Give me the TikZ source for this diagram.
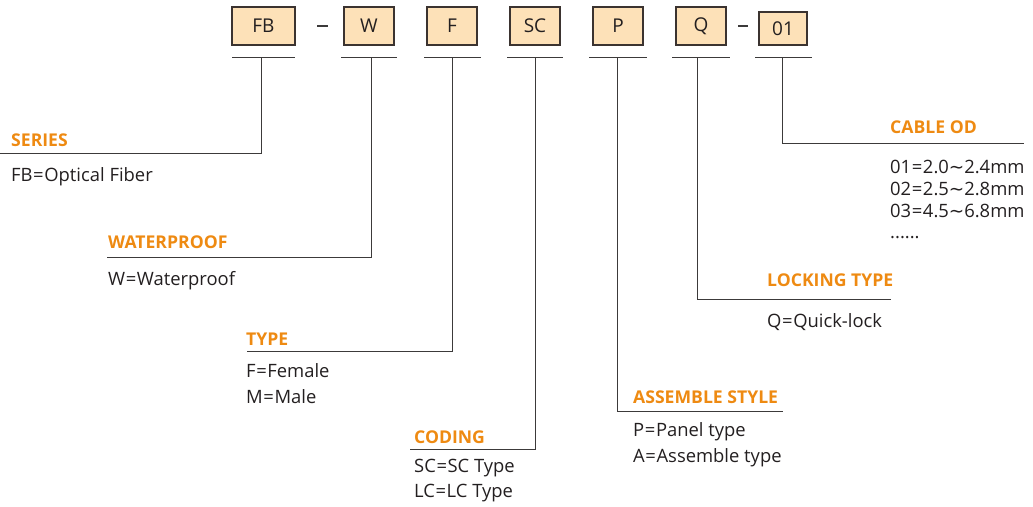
\documentclass[tikz,border=0pt]{standalone}
\usepackage{fontspec}
\setmainfont{Open Sans}
\newfontfamily\dv{DejaVu Sans}
\definecolor{boxfill}{HTML}{FDE1B8}
\definecolor{boxline}{HTML}{3B3330}
\definecolor{lbl}{HTML}{EE8A12}
\definecolor{txt}{HTML}{231F20}
\definecolor{ln}{HTML}{3C3A3A}
\newcommand{\tl}{{\dv\char"223C}}
\newcommand{\eqs}{\kern0.6pt=\kern0.6pt}
\tikzset{
  codebox/.style={draw=boxline, line width=1.2pt, fill=boxfill, inner sep=0pt, font=\fontsize{19}{19}\selectfont, text=txt},
  heading/.style={anchor=base west, inner sep=0pt, text=lbl, font=\fontsize{17.6}{17.6}\selectfont\bfseries},
  body/.style={anchor=base west, inner sep=0pt, text=txt, font=\fontsize{18.4}{18.4}\selectfont},
  guide/.style={draw=ln, line width=1pt},
}
\begin{document}
\begin{tikzpicture}[x=1pt,y=-1pt]
\useasboundingbox (0,0) rectangle (1033,506);
% code boxes
\node[codebox, minimum width=63pt, minimum height=38pt] (fb) at (263.5,26) {FB};
\node[codebox, minimum width=50pt, minimum height=38pt] (w) at (369,26) {W};
\node[codebox, minimum width=50pt, minimum height=38pt] (f) at (452,26) {F};
\node[codebox, minimum width=50pt, minimum height=38pt] (sc) at (535,26) {SC};
\node[codebox, minimum width=50pt, minimum height=38pt] (p) at (618,26) {P};
\node[codebox, minimum width=50pt, minimum height=38pt] (q) at (701,26) {Q};
\node[codebox, minimum width=48pt, minimum height=33pt, text depth=-2pt] (od) at (783,28.5) {01};
% dashes
\coordinate (d1a) at (317,26); \coordinate (d1b) at (328,26);
\coordinate (d2a) at (738,26); \coordinate (d2b) at (748,26);
\draw[guide, line width=1.3pt] (d1a) -- (d1b);
\draw[guide, line width=1.3pt] (d2a) -- (d2b);
% underlines
\coordinate (fbl) at (232,57); \coordinate (fbr) at (295,57);
\coordinate (wl) at (341,57); \coordinate (wr) at (397,57);
\coordinate (fl) at (424,57); \coordinate (fr) at (481,57);
\coordinate (scl) at (507,57); \coordinate (scr) at (563,57);
\coordinate (pl) at (589,57); \coordinate (pr) at (647,57);
\coordinate (ql) at (672,57); \coordinate (qr) at (730,57);
\coordinate (odl) at (755,57); \coordinate (odr) at (812,57);
\foreach \a/\b in {fbl/fbr,wl/wr,fl/fr,scl/scr,pl/pr,ql/qr,odl/odr}
  \draw[guide] (\a) -- (\b);
% stems and leader lines
\coordinate (fbs) at (261,57); \coordinate (fbe) at (0,153);
\coordinate (ws) at (371,57); \coordinate (we) at (107,257);
\coordinate (fs) at (452,57); \coordinate (fe) at (247,351);
\coordinate (scs) at (535,57); \coordinate (sce) at (410,449);
\coordinate (ps) at (617,57); \coordinate (pe) at (783,411);
\coordinate (qs) at (697,57); \coordinate (qe) at (891,299);
\coordinate (ods) at (782,57); \coordinate (ode) at (1024,143);
\foreach \s/\e in {fbs/fbe,ws/we,fs/fe,scs/sce,ps/pe,qs/qe,ods/ode}
  \draw[guide] (\s) |- (\e);
% texts
\node[heading] (h1) at (11,146) {SERIES};
\node[body] (t1) at (11,181) {FB\eqs Optical Fiber};
\node[heading] (h2) at (108,248) {WATERPROOF};
\node[body] (t2) at (108,285) {W\eqs Waterproof};
\node[heading] (h3) at (246,345) {TYPE};
\node[body] (t3a) at (246,377) {F\eqs Female};
\node[body] (t3b) at (246,403) {M\eqs Male};
\node[heading] (h4) at (414,443) {CODING};
\node[body] (t4a) at (414,472) {SC\eqs SC Type};
\node[body] (t4b) at (414,497) {LC\eqs LC Type};
\node[heading] (h5) at (633,403) {ASSEMBLE STYLE};
\node[body] (t5a) at (633,436) {P\eqs Panel type};
\node[body] (t5b) at (633,462) {A\eqs Assemble type};
\node[heading] (h6) at (767,286) {LOCKING TYPE};
\node[body] (t6) at (767,327) {Q\eqs Quick-lock};
\node[heading] (h7) at (890,133) {CABLE OD};
\node[body] (t7a) at (890,173) {01\eqs 2.0\tl2.4mm};
\node[body] (t7b) at (890,195) {02\eqs 2.5\tl2.8mm};
\node[body] (t7c) at (890,217) {03\eqs 4.5\tl6.8mm};
\node[body] (t7d) at (890,238) {......};
\end{tikzpicture}
\end{document}
